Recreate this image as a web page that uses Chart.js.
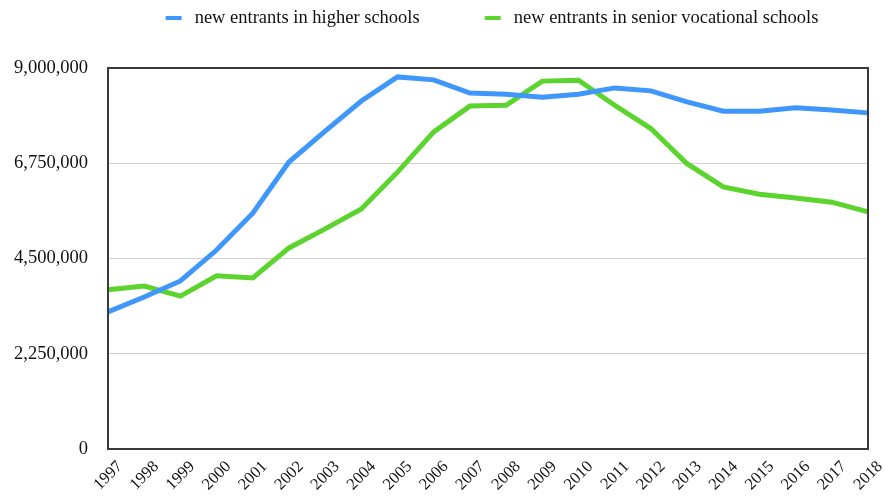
<!DOCTYPE html>
<html>
<head>
<meta charset="utf-8">
<script src="https://cdn.jsdelivr.net/npm/chart.js@4/dist/chart.umd.min.js"></script>
<style>
  html, body { margin: 0; padding: 0; background: #fff; }
</style>
</head>
<body>
<canvas id="chart" width="885" height="498"></canvas>
<script>
var years = ['1997','1998','1999','2000','2001','2002','2003','2004','2005','2006','2007',
  '2008','2009','2010','2011','2012','2013','2014','2015','2016','2017','2018'];
var higherSchools = [3240000,3590000,3970000,4700000,5570000,6780000,7510000,8220000,8790000,8720000,8410000,
  8380000,8310000,8380000,8530000,8460000,8200000,7980000,7980000,8060000,8010000,7940000];
var vocationalSchools = [3760000,3850000,3610000,4090000,4040000,4750000,5200000,5670000,6540000,7490000,8100000,
  8120000,8690000,8710000,8120000,7570000,6740000,6190000,6020000,5930000,5830000,5600000];
var yTicks = [0,2250000,4500000,6750000,9000000];

var serif = "'Liberation Serif', 'Times New Roman', serif";

// frame round the plot area
var frame = {
  id: 'frame',
  afterDraw: function(chart){
    var a = chart.chartArea, ctx = chart.ctx;
    ctx.save();
    ctx.strokeStyle = '#3a3a3a';
    ctx.lineWidth = 2;
    ctx.strokeRect(a.left, a.top, a.right - a.left, a.bottom - a.top);
    ctx.restore();
  }
};

// legend centred over the plot area, short line markers, wide gap
var lineLegend = {
  id: 'lineLegend',
  afterDraw: function(chart){
    var a = chart.chartArea, ctx = chart.ctx;
    var sets = chart.data.datasets;
    var markW = 16, markGap = 13, itemGap = 65, y = 18;
    ctx.save();
    ctx.font = '18.5px ' + serif;
    ctx.textBaseline = 'middle';
    var total = 0;
    sets.forEach(function(ds, i){
      total += markW + markGap + ctx.measureText(ds.label).width;
      if (i > 0) total += itemGap;
    });
    var x = (a.left + a.right) / 2 - total / 2 + 4;
    sets.forEach(function(ds){
      ctx.fillStyle = ds.borderColor;
      ctx.fillRect(x, y - 2, markW, 4);
      x += markW + markGap;
      ctx.fillStyle = '#111';
      ctx.fillText(ds.label, x, y);
      x += ctx.measureText(ds.label).width + itemGap;
    });
    ctx.restore();
  }
};

var ctx = document.getElementById('chart');
var myChart = new Chart(ctx, {
  type: 'line',
  data: {
    labels: years,
    datasets: [
      {
        label: 'new entrants in higher schools',
        data: higherSchools,
        borderColor: '#3f97fc',
        borderWidth: 5,
        pointRadius: 0,
        tension: 0
      },
      {
        label: 'new entrants in senior vocational schools',
        data: vocationalSchools,
        borderColor: '#5bd42e',
        borderWidth: 5,
        pointRadius: 0,
        tension: 0
      }
    ]
  },
  options: {
    responsive: false,
    animation: false,
    devicePixelRatio: 1,
    layout: { padding: { left: 13, right: 17, top: 68, bottom: 0 } },
    plugins: {
      legend: { display: false },
      tooltip: { enabled: false }
    },
    scales: {
      x: {
        offset: false,
        grid: { display: false, drawTicks: false },
        border: { display: false },
        afterFit: function(scale){
          scale.height = 49;
          scale.paddingLeft = 0;
          scale.paddingRight = 0;
        },
        ticks: {
          color: '#111',
          font: { family: serif, size: 16.5 },
          maxRotation: 45,
          minRotation: 45,
          autoSkip: false,
          padding: 8,
          labelOffset: 12
        }
      },
      y: {
        min: 0,
        max: 9000000,
        afterBuildTicks: function(scale){
          scale.ticks = yTicks.map(function(v){ return { value: v }; });
        },
        afterFit: function(scale){
          scale.width = 95;
        },
        grid: {
          drawTicks: false,
          color: function(c){
            var v = c.tick && c.tick.value;
            return (v === 0 || v === 9000000) ? 'rgba(0,0,0,0)' : '#d0d0d0';
          },
          lineWidth: 1
        },
        border: { display: false },
        ticks: {
          color: '#111',
          font: { family: serif, size: 18.5 },
          padding: 20,
          callback: function(v){ return v.toLocaleString('en-US'); }
        }
      }
    }
  },
  plugins: [frame, lineLegend]
});
</script>
</body>
</html>
